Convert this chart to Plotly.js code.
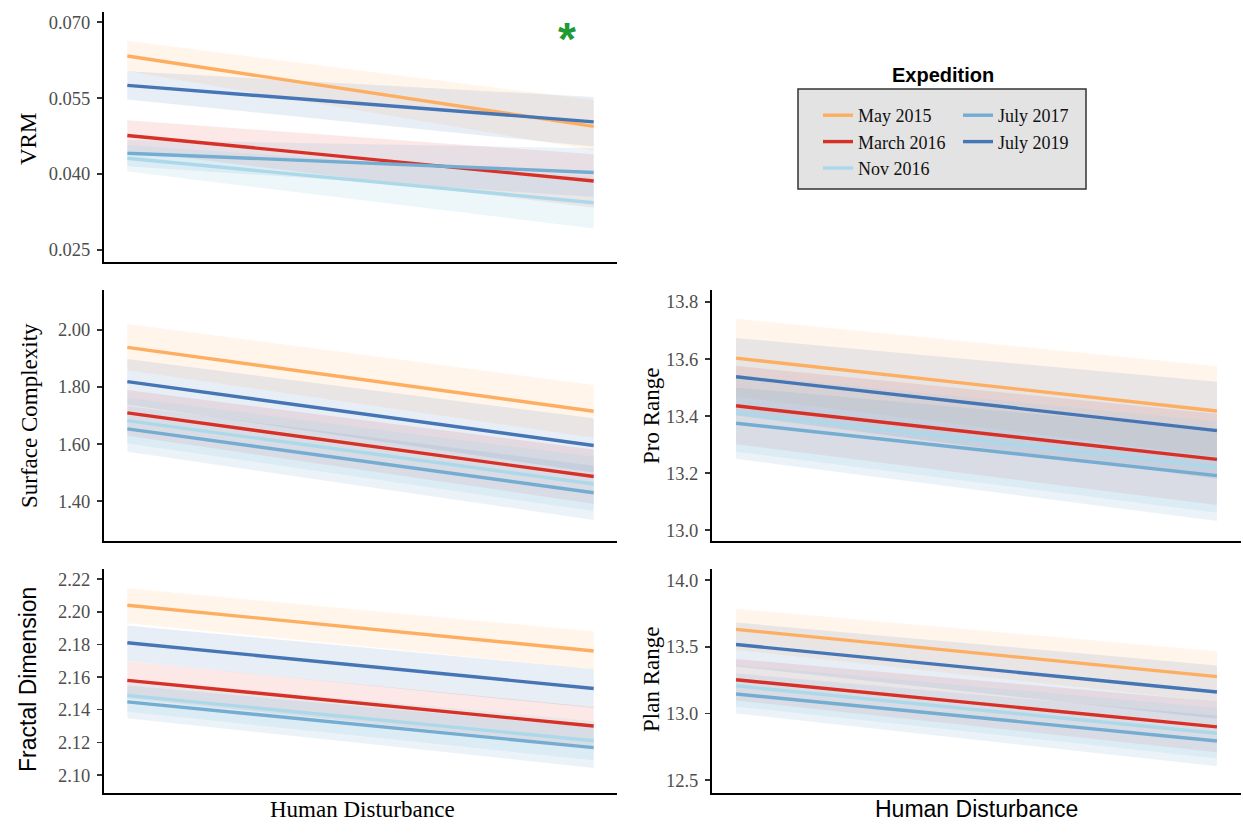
<!DOCTYPE html>
<html><head><meta charset="utf-8">
<script src="https://cdn.plot.ly/plotly-3.0.1.min.js"></script>
<style>html,body{margin:0;padding:0;background:#fff}#chart{width:1243px;height:834px}</style>
</head><body><div id="chart"></div>
<script>
// ---- data ----
const expeditions = ['May 2015', 'March 2016', 'Nov 2016', 'July 2017', 'July 2019'];
const disturbance = [0, 1]; // low -> high human disturbance (relative)

// each row: [value at low disturbance, value at high disturbance]
const vrmFit   = [[0.0633, 0.0494], [0.0476, 0.0386], [0.0431, 0.0343], [0.0441, 0.0403], [0.0575, 0.0503]];
const vrmLower = [[0.0603, 0.0447], [0.0446, 0.0333], [0.0405, 0.0292], [0.0415, 0.0355], [0.0547, 0.0454]];
const vrmUpper = [[0.0663, 0.0546], [0.0506, 0.0439], [0.0457, 0.0394], [0.0467, 0.0451], [0.0603, 0.0552]];

const surfFit   = [[1.939, 1.715], [1.709, 1.486], [1.682, 1.460], [1.653, 1.429], [1.819, 1.595]];
const surfLower = [[1.859, 1.622], [1.629, 1.391], [1.602, 1.365], [1.573, 1.334], [1.739, 1.500]];
const surfUpper = [[2.021, 1.807], [1.789, 1.581], [1.762, 1.555], [1.733, 1.524], [1.898, 1.690]];

const proFit   = [[13.603, 13.418], [13.436, 13.248], [13.410, 13.221], [13.375, 13.191], [13.538, 13.349]];
const proLower = [[13.468, 13.258], [13.301, 13.088], [13.275, 13.061], [13.250, 13.032], [13.403, 13.180]];
const proUpper = [[13.741, 13.575], [13.576, 13.408], [13.545, 13.381], [13.500, 13.351], [13.674, 13.520]];

const fracFit   = [[2.2040, 2.1760], [2.1580, 2.1300], [2.1488, 2.1210], [2.1448, 2.1168], [2.1810, 2.1530]];
const fracLower = [[2.1930, 2.1650], [2.1470, 2.1176], [2.1388, 2.1090], [2.1348, 2.1043], [2.1697, 2.1410]];
const fracUpper = [[2.2144, 2.1880], [2.1695, 2.1417], [2.1588, 2.1330], [2.1548, 2.1293], [2.1916, 2.1650]];

const planFit   = [[13.631, 13.276], [13.253, 12.899], [13.207, 12.851], [13.146, 12.793], [13.517, 13.161]];
const planLower = [[13.476, 13.086], [13.098, 12.709], [13.052, 12.661], [13.000, 12.604], [13.352, 12.961]];
const planUpper = [[13.786, 13.466], [13.408, 13.089], [13.362, 13.041], [13.301, 12.983], [13.682, 13.360]];

const vrmTicks  = [0.025, 0.040, 0.055, 0.070];
const surfTicks = [1.40, 1.60, 1.80, 2.00];
const proTicks  = [13.0, 13.2, 13.4, 13.6, 13.8];
const fracTicks = [2.10, 2.12, 2.14, 2.16, 2.18, 2.20, 2.22];
const planTicks = [12.5, 13.0, 13.5, 14.0];

// ---- styles ----
const lineColors = ['#FDAE61', '#D73027', '#ABD9E9', '#74ADD1', '#4575B4'];
const bandColors = ['rgba(253,174,97,0.13)', 'rgba(215,48,39,0.11)', 'rgba(171,217,233,0.22)',
                    'rgba(116,173,209,0.14)', 'rgba(69,117,180,0.12)'];

const W = 1243, H = 834;
const px = p => p / W;
const py = p => 1 - p / H;

const panels = [
  {fit: vrmFit,  lo: vrmLower,  hi: vrmUpper,  n: '',  ticks: vrmTicks,  fmt: '.3f', yr: [0.0226, 0.0720], xd: [104, 617], yd: [12, 262], legend: true},
  {fit: surfFit, lo: surfLower, hi: surfUpper, n: '2', ticks: surfTicks, fmt: '.2f', yr: [1.26, 2.14],    xd: [104, 617], yd: [290, 541]},
  {fit: proFit,  lo: proLower,  hi: proUpper,  n: '3', ticks: proTicks,  fmt: '.1f', yr: [12.962, 13.842], xd: [712, 1241], yd: [290, 541]},
  {fit: fracFit, lo: fracLower, hi: fracUpper, n: '4', ticks: fracTicks, fmt: '.2f', yr: [2.089, 2.2262], xd: [104, 617], yd: [569, 793]},
  {fit: planFit, lo: planLower, hi: planUpper, n: '5', ticks: planTicks, fmt: '.1f', yr: [12.403, 14.084], xd: [712, 1241], yd: [569, 793]}
];

const traces = [];
const legendBase = {xanchor: 'left', yanchor: 'top', bgcolor: 'rgba(0,0,0,0)', borderwidth: 0, traceorder: 'normal',
  font: {family: 'Liberation Serif', size: 18, color: '#111'}, itemwidth: 30, tracegroupgap: 0};
const layout = {
  width: W, height: H,
  margin: {l: 0, r: 0, t: 0, b: 0},
  paper_bgcolor: '#fff', plot_bgcolor: 'rgba(0,0,0,0)',
  showlegend: true,
  legend:  Object.assign({x: px(818), y: py(97)}, legendBase),
  legend2: Object.assign({x: px(958), y: py(97)}, legendBase),
  shapes: [
    {type: 'rect', xref: 'paper', yref: 'paper', x0: px(798), x1: px(1086), y0: py(189), y1: py(89),
     fillcolor: '#e3e3e3', line: {color: '#333', width: 1.5}, layer: 'below'}
  ],
  annotations: []
};

panels.forEach(p => {
  const xa = 'x' + p.n, ya = 'y' + p.n;
  // confidence bands
  expeditions.forEach((name, i) => {
    traces.push({x: disturbance, y: p.lo[i], xaxis: xa, yaxis: ya, mode: 'lines', line: {width: 0, color: lineColors[i]},
                 showlegend: false, hoverinfo: 'skip'});
    traces.push({x: disturbance, y: p.hi[i], xaxis: xa, yaxis: ya, mode: 'lines', line: {width: 0, color: lineColors[i]},
                 fill: 'tonexty', fillcolor: bandColors[i], showlegend: false, hoverinfo: 'skip'});
  });
  // fitted lines
  expeditions.forEach((name, i) => {
    traces.push({x: disturbance, y: p.fit[i], xaxis: xa, yaxis: ya, mode: 'lines', name: name,
                 line: {width: 3.4, color: lineColors[i]},
                 showlegend: !!p.legend, legend: i < 3 ? 'legend' : 'legend2'});
  });
  layout['xaxis' + p.n] = {
    domain: [px(p.xd[0]), px(p.xd[1])], anchor: ya, range: [-0.05, 1.05],
    showline: true, linecolor: '#000', linewidth: 2, showticklabels: false, ticks: '',
    showgrid: false, zeroline: false, fixedrange: true
  };
  layout['yaxis' + p.n] = {
    domain: [py(p.yd[1]), py(p.yd[0])], anchor: xa, range: p.yr,
    tickvals: p.ticks, tickformat: p.fmt, ticks: 'outside', ticklen: 5, tickwidth: 1.5, tickcolor: '#333',
    ticklabelstandoff: 3,
    showline: true, linecolor: '#000', linewidth: 2, showgrid: false, zeroline: false, fixedrange: true,
    tickfont: {family: 'Liberation Serif', size: 18.5, color: '#4d4d4d'}
  };
});

const serif = 'Liberation Serif', sans = 'Liberation Sans';
const titles = [
  {t: 'VRM', x: 29, y: 139, a: -90, f: serif},
  {t: 'Surface Complexity', x: 29, y: 416, a: -90, f: serif},
  {t: 'Fractal Dimension', x: 28, y: 680, a: -90, f: sans},
  {t: 'Pro Range', x: 651, y: 416, a: -90, f: serif},
  {t: 'Plan Range', x: 651, y: 680, a: -90, f: serif},
  {t: 'Human Disturbance', x: 362, y: 809, a: 0, f: serif},
  {t: 'Human Disturbance', x: 976, y: 809, a: 0, f: sans}
];
titles.forEach(o => layout.annotations.push({
  text: o.t, xref: 'paper', yref: 'paper', x: px(o.x), y: py(o.y), xanchor: 'center', yanchor: 'middle',
  textangle: o.a, showarrow: false, font: {family: o.f, size: 23, color: '#000'}
}));
layout.annotations.push({text: '<b>Expedition</b>', xref: 'paper', yref: 'paper', x: px(943), y: py(75),
  xanchor: 'center', yanchor: 'middle', showarrow: false, font: {family: sans, size: 20, color: '#000'}});
layout.annotations.push({text: '<b>*</b>', xref: 'paper', yref: 'paper', x: px(567), y: py(39),
  xanchor: 'center', yanchor: 'middle', showarrow: false, font: {family: sans, size: 46, color: '#1f9a35'}});

Plotly.newPlot('chart', traces, layout, {displayModeBar: false, staticPlot: true});
</script>
</body></html>
